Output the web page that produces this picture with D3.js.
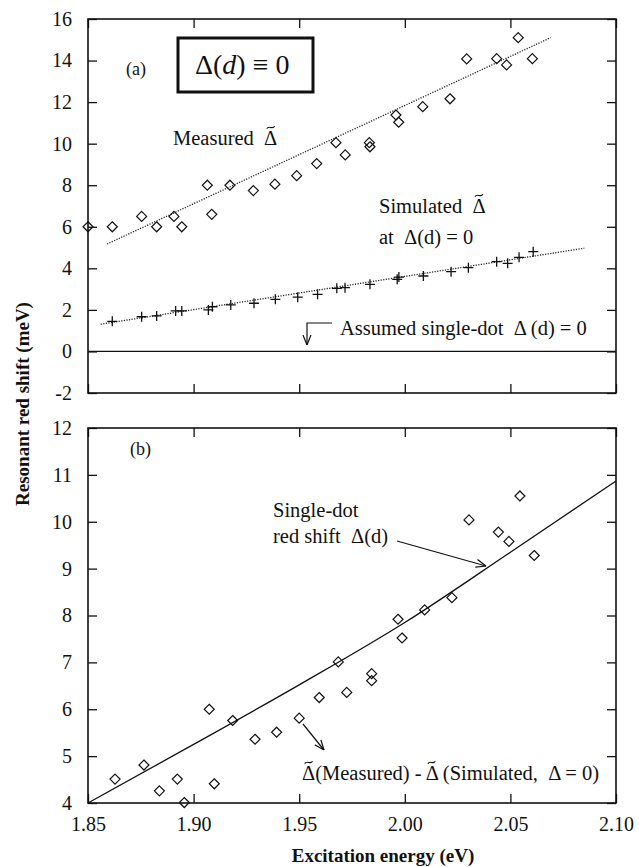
<!DOCTYPE html>
<html>
<head>
<meta charset="utf-8">
<script src="https://cdn.jsdelivr.net/npm/d3@7"></script>
<style>
  body { margin: 0; background: #fff; }
  text { font-family: "Liberation Serif", "Times New Roman", serif; fill: #111; white-space: pre; }
</style>
</head>
<body>
<div id="chart"></div>
<script>
// panel (a): measured and simulated resonant shift
const energyMeasured = [1.85, 1.8615, 1.8754, 1.8825, 1.8907, 1.8944, 1.9065, 1.9086, 1.9172, 1.9283,
  1.9385, 1.9488, 1.9583, 1.9674, 1.9718, 1.9832, 1.9835, 1.9958, 1.9971, 2.0085,
  2.0214, 2.0293, 2.0435, 2.0482, 2.0537, 2.0604];
const shiftMeasured = [6.0, 6.0, 6.5, 6.0, 6.5, 6.0, 8.0, 6.6, 8.0, 7.74,
  8.05, 8.46, 9.04, 10.05, 9.46, 10.05, 9.85, 11.38, 11.03, 11.78,
  12.16, 14.08, 14.09, 13.79, 15.1, 14.09];
const energySimulated = [1.8615, 1.8754, 1.8825, 1.8915, 1.8944, 1.907, 1.9089, 1.9176, 1.9286, 1.9387,
  1.9493, 1.9587, 1.9678, 1.9717, 1.9835, 1.9964, 1.9972, 2.0088, 2.0219, 2.0301,
  2.0435, 2.0487, 2.0541, 2.0608];
const shiftSimulated = [1.45, 1.67, 1.71, 1.95, 1.95, 2.0, 2.15, 2.24, 2.32, 2.51,
  2.61, 2.75, 3.04, 3.07, 3.23, 3.47, 3.58, 3.63, 3.84, 4.03,
  4.32, 4.24, 4.53, 4.8];
const fitMeasuredX = [1.859, 2.069];
const fitMeasuredY = [5.17, 15.1];
const fitSimulatedX = [1.856, 2.085];
const fitSimulatedY = [1.31, 4.97];

// panel (b): difference and single-dot red shift
const energyDiff = [1.8628, 1.8765, 1.8838, 1.8923, 1.8956, 1.9074, 1.9098, 1.9185, 1.9291, 1.9393,
  1.95, 1.9595, 1.9685, 1.9725, 1.9843, 1.9843, 1.9968, 1.9987, 2.0094, 2.0223,
  2.0304, 2.0443, 2.0493, 2.0545, 2.0613];
const shiftDiff = [4.51, 4.81, 4.26, 4.51, 4.01, 6.0, 4.41, 5.76, 5.36, 5.51,
  5.81, 6.25, 7.01, 6.36, 6.76, 6.61, 7.92, 7.52, 8.12, 8.38,
  10.04, 9.78, 9.58, 10.55, 9.28];
const curveEnergy = [1.85, 1.90, 1.95, 2.00, 2.05, 2.10];
const curveShift = [4.0, 5.25, 6.52, 7.85, 9.35, 10.87];

const xTicks = [1.85, 1.90, 1.95, 2.00, 2.05, 2.10];
const yTicksA = [-2, 0, 2, 4, 6, 8, 10, 12, 14, 16];
const yTicksB = [4, 5, 6, 7, 8, 9, 10, 11, 12];

const serif = "'Liberation Serif', 'Times New Roman', serif";
const width = 639, height = 867;
const left = 88, right = 616;

const svg = d3
  .select("#chart")
  .append("svg")
  .attr("width", width)
  .attr("height", height)
  .attr("font-family", serif);

svg.append("defs")
  .append("marker")
  .attr("id", "arrow")
  .attr("viewBox", "0 0 10 10")
  .attr("refX", 10)
  .attr("refY", 5)
  .attr("markerWidth", 10)
  .attr("markerHeight", 10)
  .attr("markerUnits", "userSpaceOnUse")
  .attr("orient", "auto")
  .append("path")
  .attr("d", "M0,1 L10,5 L0,9")
  .attr("fill", "none")
  .attr("stroke", "#111")
  .attr("stroke-width", 1.2);

const x = d3.scaleLinear().domain([1.85, 2.10]).range([left, right]);
const yA = d3.scaleLinear().domain([-2, 16]).range([393, 19]);
const yB = d3.scaleLinear().domain([4, 12]).range([803, 428]);

function frame(y, ticks, showX) {
  const [y0, y1] = y.range();
  const g = svg.append("g");

  g.append("g")
    .attr("transform", "translate(" + left + ",0)")
    .call(d3.axisLeft(y).tickValues(ticks).tickSizeInner(-9).tickSizeOuter(0)
      .tickPadding(16).tickFormat((d) => String(d)))
    .call((s) => s.select(".domain").remove());
  g.append("g")
    .attr("transform", "translate(" + right + ",0)")
    .call(d3.axisRight(y).tickValues(ticks).tickSizeInner(-9).tickSizeOuter(0).tickFormat(""))
    .call((s) => s.select(".domain").remove());
  g.append("g")
    .attr("transform", "translate(0," + y1 + ")")
    .call(d3.axisTop(x).tickValues(xTicks).tickSizeInner(-9).tickSizeOuter(0).tickFormat(""))
    .call((s) => s.select(".domain").remove());
  g.append("g")
    .attr("transform", "translate(0," + y0 + ")")
    .call(d3.axisBottom(x).tickValues(xTicks).tickSizeInner(-9).tickSizeOuter(0)
      .tickPadding(14).tickFormat(showX ? d3.format(".2f") : ""))
    .call((s) => s.select(".domain").remove());

  g.selectAll("g").attr("font-family", serif).attr("font-size", 20);
  g.selectAll(".tick line").attr("stroke", "#111").attr("stroke-width", 1.3);
  g.selectAll(".tick text")
    .style("font-family", serif)
    .style("font-size", "20px")
    .attr("fill", "#111");

  g.append("rect")
    .attr("x", left)
    .attr("y", y1)
    .attr("width", right - left)
    .attr("height", y0 - y1)
    .attr("fill", "none")
    .attr("stroke", "#111")
    .attr("stroke-width", 1.6);
}

frame(yA, yTicksA, false);
frame(yB, yTicksB, true);

function diamonds(xs, ys, y) {
  svg.append("g")
    .selectAll("path")
    .data(xs.map((d, i) => [d, ys[i]]))
    .enter()
    .append("path")
    .attr("d", "M0,-5 L5,0 L0,5 L-5,0 Z")
    .attr("transform", (d) => "translate(" + x(d[0]) + "," + y(d[1]) + ")")
    .attr("fill", "none")
    .attr("stroke", "#111")
    .attr("stroke-width", 1.2);
}

// panel (a)
svg.append("line")
  .attr("x1", x(1.85)).attr("x2", x(2.10))
  .attr("y1", yA(0)).attr("y2", yA(0))
  .attr("stroke", "#111").attr("stroke-width", 1.3);

const lineA = d3.line().x((d) => x(d[0])).y((d) => yA(d[1]));
svg.append("path")
  .attr("d", lineA(fitMeasuredX.map((d, i) => [d, fitMeasuredY[i]])))
  .attr("fill", "none").attr("stroke", "#222")
  .attr("stroke-width", 1.3).attr("stroke-dasharray", "1.2,1.4");
svg.append("path")
  .attr("d", lineA(fitSimulatedX.map((d, i) => [d, fitSimulatedY[i]])))
  .attr("fill", "none").attr("stroke", "#222")
  .attr("stroke-width", 1.3).attr("stroke-dasharray", "1.2,1.4");

diamonds(energyMeasured, shiftMeasured, yA);

svg.append("g")
  .selectAll("path")
  .data(energySimulated.map((d, i) => [d, shiftSimulated[i]]))
  .enter()
  .append("path")
  .attr("d", "M-5,0 L5,0 M0,-5 L0,5")
  .attr("transform", (d) => "translate(" + x(d[0]) + "," + yA(d[1]) + ")")
  .attr("stroke", "#111")
  .attr("stroke-width", 1.3);

// panel (b)
const curveB = d3.line().x((d) => x(d[0])).y((d) => yB(d[1])).curve(d3.curveMonotoneX);
svg.append("path")
  .attr("d", curveB(curveEnergy.map((d, i) => [d, curveShift[i]])))
  .attr("fill", "none").attr("stroke", "#111").attr("stroke-width", 1.3);

diamonds(energyDiff, shiftDiff, yB);

// annotations; a "~" flag draws a tilde over the Δ of that part
function label(tx, ty, size, parts) {
  const t = svg.append("text").attr("x", tx).attr("y", ty)
    .attr("xml:space", "preserve").style("font-size", size + "px");
  const marks = [];
  let n = 0;
  parts.forEach((p) => {
    const s = t.append("tspan").text(p[0]);
    if (p[1] === "i") s.style("font-style", "italic");
    if (p[1] === "~") marks.push(n + p[0].indexOf("Δ"));
    n += p[0].length;
  });
  const count = t.node().getNumberOfChars();
  marks.forEach((k) => {
    if (k >= count) return;
    const b = t.node().getExtentOfChar(k);
    const w = b.width * 0.6;
    const x0 = b.x + (b.width - w) / 2;
    const y0 = ty - size * 0.66 - 4;
    svg.append("path")
      .attr("d", "M" + x0 + "," + (y0 + 1.2) +
        " C" + (x0 + w * 0.3) + "," + (y0 - 2.8) + " " + (x0 + w * 0.7) + "," + (y0 + 2.8) +
        " " + (x0 + w) + "," + (y0 - 1.2))
      .attr("fill", "none")
      .attr("stroke", "#111")
      .attr("stroke-width", 1.2);
  });
  return t;
}

label(126, 75, 18, [["(a)"]]);
svg.append("rect")
  .attr("x", 178).attr("y", 38).attr("width", 135).attr("height", 54)
  .attr("fill", "none").attr("stroke", "#111").attr("stroke-width", 3);
label(195, 74, 28, [["Δ("], ["d", "i"], [") ≡ 0"]]);

label(173, 145, 20.5, [["Measured  "], ["Δ", "~"]]);
label(379, 213, 20.5, [["Simulated  "], ["Δ", "~"]]);
label(379, 244, 20.5, [["at  Δ(d) = 0"]]);
label(340, 335, 20.5, [["Assumed single-dot  Δ (d) = 0"]]);
svg.append("path")
  .attr("d", "M332,323 L307,323 L307,345")
  .attr("fill", "none").attr("stroke", "#111").attr("stroke-width", 1.2)
  .attr("marker-end", "url(#arrow)");

label(130, 455, 18, [["(b)"]]);
label(273, 517, 20.5, [["Single-dot"]]);
label(273, 543, 20.5, [["red shift  Δ(d)"]]);
svg.append("path")
  .attr("d", "M397,541 L486,566")
  .attr("fill", "none").attr("stroke", "#111").attr("stroke-width", 1.2)
  .attr("marker-end", "url(#arrow)");

label(302, 780, 20.5, [["Δ", "~"], ["(Measured) - "], ["Δ", "~"], [" (Simulated,  Δ = 0)"]]);
svg.append("path")
  .attr("d", "M303,724 L324,750")
  .attr("fill", "none").attr("stroke", "#111").attr("stroke-width", 1.2)
  .attr("marker-end", "url(#arrow)");

// axis titles
svg.append("text")
  .attr("transform", "translate(29,404) rotate(-90)")
  .attr("text-anchor", "middle")
  .style("font-size", "19px")
  .style("font-weight", "bold")
  .text("Resonant red shift (meV)");
svg.append("text")
  .attr("x", 383)
  .attr("y", 862)
  .attr("text-anchor", "middle")
  .style("font-size", "19px")
  .style("font-weight", "bold")
  .text("Excitation energy (eV)");
</script>
</body>
</html>
